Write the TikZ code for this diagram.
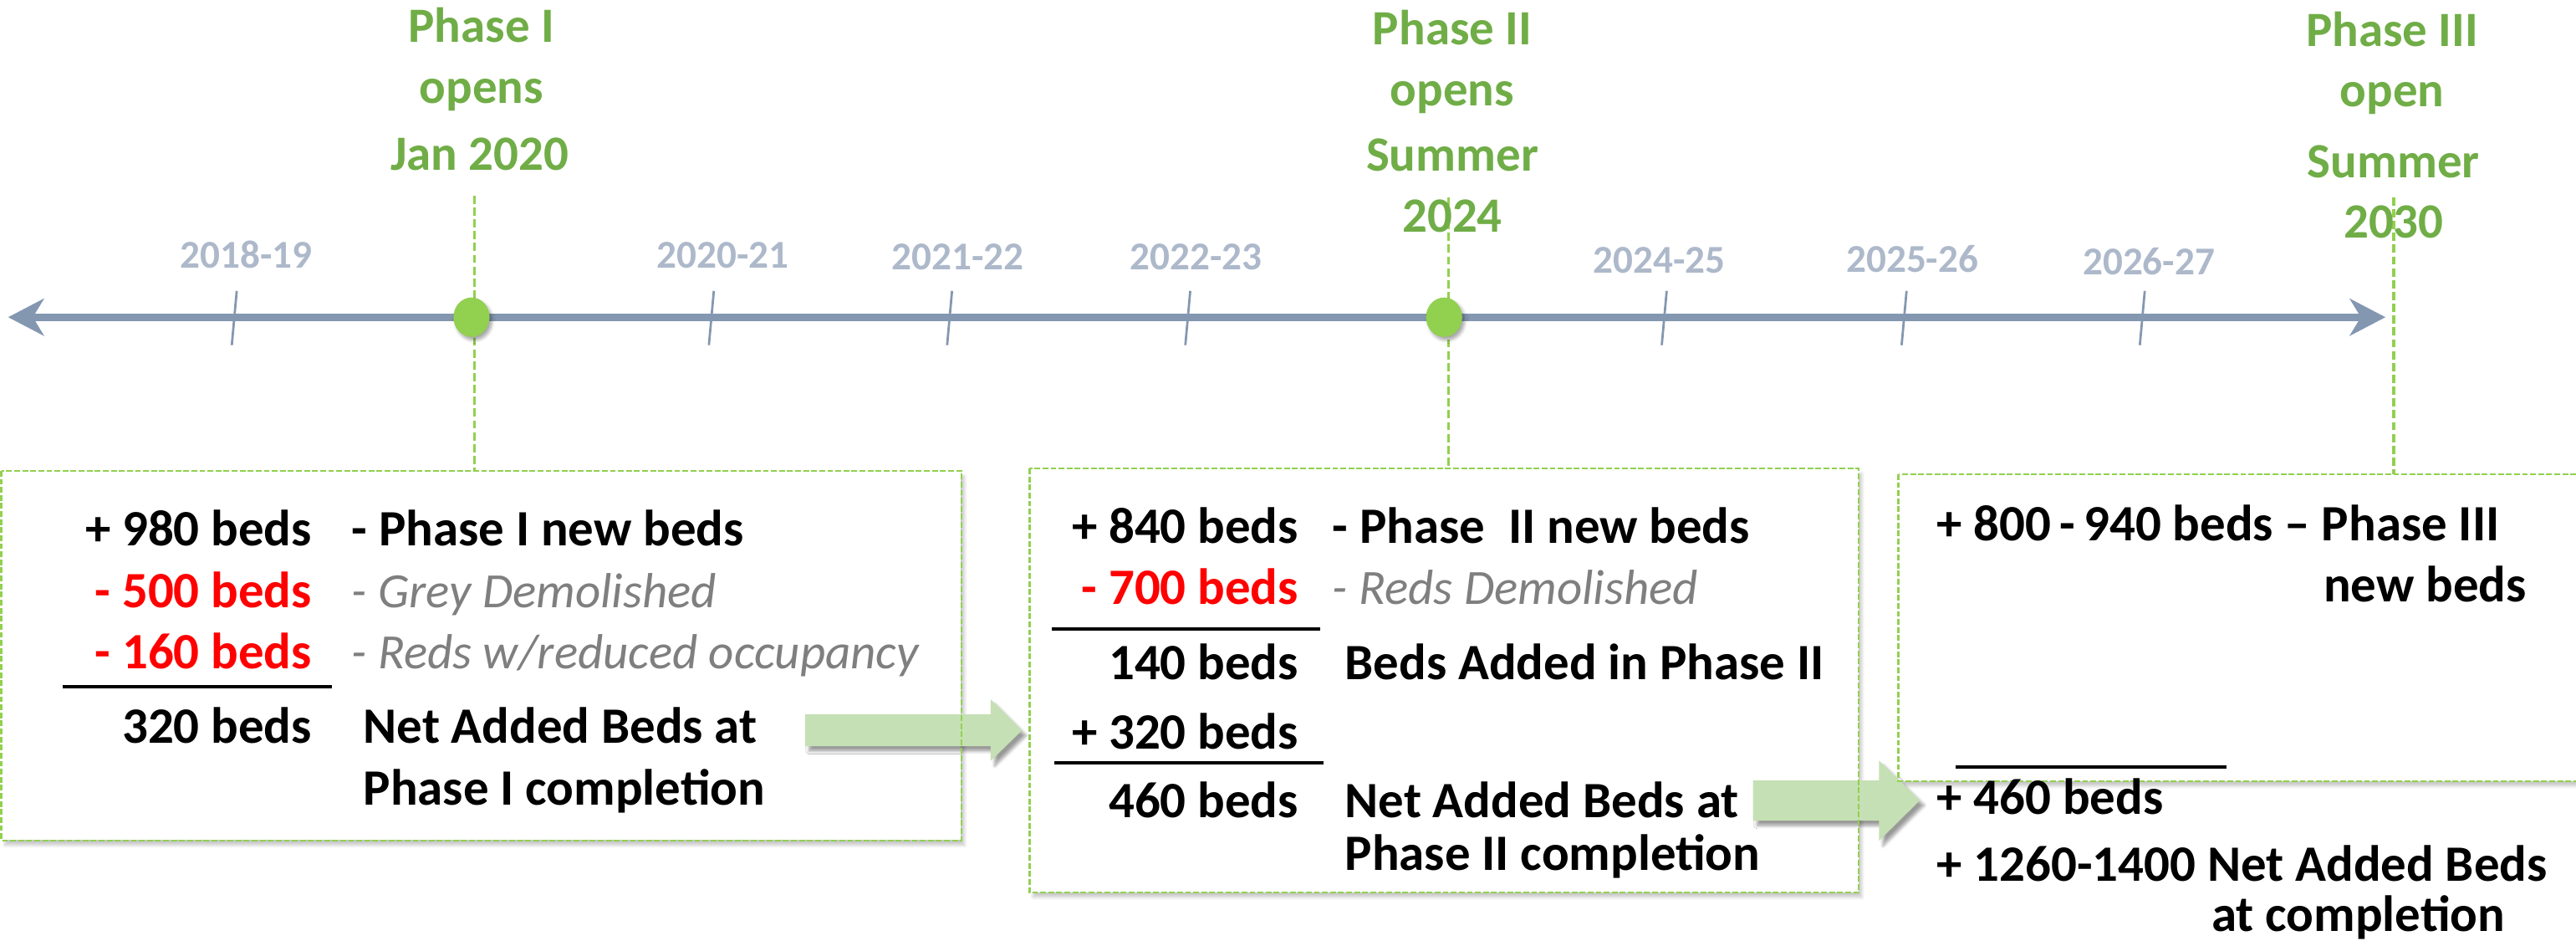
\documentclass[tikz,border=0pt]{standalone}
\usepackage{fontspec}
\setmainfont{Carlito}
\usetikzlibrary{shapes.geometric,shadows.blur,calc}
\definecolor{tl}{HTML}{8497B0}
\definecolor{yrc}{HTML}{ADB9CA}
\definecolor{phc}{HTML}{70AD47}
\definecolor{grn}{HTML}{92D050}
\definecolor{arf}{HTML}{C5E0B4}
\definecolor{gry}{HTML}{7F7F7F}
\definecolor{rd}{HTML}{FF0000}
\tikzset{
  yr/.style={font=\fontsize{24}{28}\selectfont\bfseries, text=yrc, inner sep=0, anchor=base},
  ph/.style={font=\fontsize{30}{36}\selectfont\bfseries, text=phc, inner sep=0, anchor=base},
  bt/.style={font=\fontsize{31}{37}\selectfont\bfseries, text=black, inner sep=0},
  rt/.style={bt, text=rd},
  gt/.style={font=\fontsize{30}{36}\selectfont\itshape, text=gry, inner sep=0},
  conn/.style={draw=grn, line width=1.6pt, dash pattern=on 5pt off 2.2pt},
  boxbg/.style={fill=white, inner sep=0, anchor=north west,
     blur shadow={shadow xshift=2pt, shadow yshift=-3pt, shadow opacity=22, shadow blur steps=6}},
  boxline/.style={draw=grn, line width=1.3pt, dash pattern=on 3.5pt off 1.4pt},
  tickmark/.style={draw=tl, line width=1.4pt},
  dot/.style={ellipse, fill=grn, minimum width=22pt, minimum height=24pt, inner sep=0,
     blur shadow={shadow xshift=1.5pt, shadow yshift=-2pt, shadow opacity=35, shadow blur steps=5}},
  barrow/.style={fill=arf, blur shadow={shadow xshift=2.5pt, shadow yshift=-3pt, shadow opacity=40, shadow blur steps=5}},
  rule/.style={draw=black, line width=2pt}
}
\begin{document}
\begin{tikzpicture}[x=1pt,y=-1pt]
\useasboundingbox (0,0) rectangle (1568,575.1);

% boxes (background + shadow)
\node[boxbg, minimum width=584pt, minimum height=224.5pt] (b1) at (0.8,286.5) {};
\node[boxbg, minimum width=504.4pt, minimum height=257.6pt] (b2) at (626.6,285) {};
\node[boxbg, minimum width=460pt, minimum height=186.5pt] (b3) at (1155.5,288.5) {};

% green block arrows
\fill[barrow] (490,434.6) -- (603,434.6) -- (603,425.5) -- (622,444.5) -- (603,463) -- (603,454) -- (490,454) -- cycle;
\fill[barrow] (1067,474.9) -- (1143.7,474.9) -- (1143.7,462.7) -- (1168.6,487) -- (1143.7,511.6) -- (1143.7,499.3) -- (1067,499.3) -- cycle;

% box borders
\draw[boxline] (b1.north west) rectangle (b1.south east);
\draw[boxline] (b2.north west) rectangle (b2.south east);
\draw[boxline] (b3.north west) rectangle (b3.south east);

% dashed connectors from phase labels
\coordinate (c1) at (288.7,119);
\coordinate (c2) at (881.5,120);
\coordinate (c3) at (1457,120);
\draw[conn] (c1) -- (c1 |- b1.north);
\draw[conn] (c2) -- (c2 |- b2.north);
\draw[conn] (c3) -- (c3 |- b3.north);

% timeline
\draw[tl, line width=4.7pt] (20,193) -- (1437,193);
\fill[tl] (5,193) -- (27,181.5) -- (20,193) -- (27,204.5) -- cycle;
\fill[tl] (1452,193) -- (1430,181.5) -- (1437,193) -- (1430,204.5) -- cycle;
\foreach \x in {142.6,433,578,723,1013,1159,1304}{
  \draw[tickmark] (\x+1.5,177) -- (\x-1.5,210);
}
\node[dot] (d1) at (287,193) {};
\node[dot] (d2) at (879,193) {};

% year labels
\node[yr] (y1) at (150,163) {2018-19};
\node[yr] (y2) at (440,163) {2020-21};
\node[yr] (y3) at (583,164) {2021-22};
\node[yr] (y4) at (728,164) {2022-23};
\node[yr] (y5) at (1010,166) {2024-25};
\node[yr] (y6) at (1164,165.5) {2025-26};
\node[yr] (y7) at (1308,167) {2026-27};

% phase labels
\node[ph] (p1a) at (293,25.8) {Phase I};
\node[ph] (p1b) at (293,62.8) {opens};
\node[ph] (p1c) at (292,103.5) {Jan 2020};
\node[ph] (p2a) at (884,27) {Phase II};
\node[ph] (p2b) at (884,64.6) {opens};
\node[ph] (p2c) at (884,104) {Summer};
\node[ph] (p2d) at (884,141) {2024};
\node[ph] (p3a) at (1456,28) {Phase III};
\node[ph] (p3b) at (1456,65) {open};
\node[ph] (p3c) at (1457,108) {Summer};
\node[ph] (p3d) at (1457,145) {2030};

% box 1 text
\node[bt, anchor=base east] (a1) at (190,332) {+ 980 beds};
\node[bt, anchor=base west] (a2) at (214,332) {- Phase I new beds};
\node[rt, anchor=base east] (a3) at (190,369.5) {- 500 beds};
\node[gt, anchor=base west] (a4) at (214,369.5) {- Grey Demolished};
\node[rt, anchor=base east] (a5) at (190,407) {- 160 beds};
\node[gt, anchor=base west] (a6) at (214,407) {- Reds w/reduced occupancy};
\coordinate (r1a) at (38,418); \coordinate (r1b) at (202,418);
\draw[rule] (r1a) -- (r1b);
\node[bt, anchor=base east] (a7) at (190,452) {320 beds};
\node[bt, anchor=base west] (a8) at (221,452) {Net Added Beds at};
\node[bt, anchor=base west] (a9) at (221,489.6) {Phase I completion};

% box 2 text
\node[bt, anchor=base east] (e1) at (790.5,330.4) {+ 840 beds};
\node[bt, anchor=base west] (e2) at (811,330.4) {- Phase\ \ II new beds};
\node[rt, anchor=base east] (e3) at (790.5,367.6) {- 700 beds};
\node[gt, anchor=base west] (e4) at (811,367.6) {- Reds Demolished};
\coordinate (r2a) at (640,382.7); \coordinate (r2b) at (803.7,382.7);
\draw[rule] (r2a) -- (r2b);
\node[bt, anchor=base east] (e5) at (790.5,413.3) {140 beds};
\node[bt, anchor=base west] (e6) at (818.5,413.3) {Beds Added in Phase II};
\node[bt, anchor=base east] (e7) at (790.5,455.6) {+ 320 beds};
\coordinate (r3a) at (642,464.2); \coordinate (r3b) at (805.7,464.2);
\draw[rule] (r3a) -- (r3b);
\node[bt, anchor=base east] (e8) at (790.5,497.3) {460 beds};
\node[bt, anchor=base west] (e9) at (818.5,497.3) {Net Added Beds at};
\node[bt, anchor=base west] (e10) at (818.5,529.4) {Phase II completion};

% box 3 text
\node[bt, anchor=base west] (f1) at (1178.8,328.8) {+ 800\,-\,940 beds -- Phase III};
\node[bt, anchor=base east] (f2) at (1538,366) {new beds};
\coordinate (r4a) at (1190.5,466.7); \coordinate (r4b) at (1355,466.7);
\draw[rule] (r4a) -- (r4b);
\node[bt, anchor=base west] (f3) at (1178.8,495.4) {+ 460 beds};
\node[bt, anchor=base west] (f4) at (1178.8,536) {+ 1260-1400 Net Added Beds};
\node[bt, anchor=base east] (f5) at (1525,566.5) {at completion};
\end{tikzpicture}
\end{document}
